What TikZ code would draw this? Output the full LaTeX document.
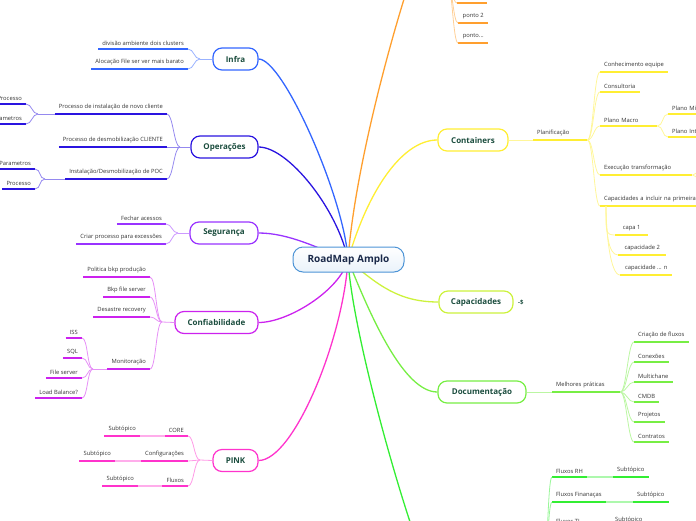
\documentclass[tikz,border=0pt]{standalone}
\usepackage{fontspec}
\setmainfont{Open Sans}

\definecolor{cinfra}{HTML}{3366FF}
\definecolor{cops}{HTML}{2A14E0}
\definecolor{cseg}{HTML}{9933FF}
\definecolor{cconf}{HTML}{CC22EE}
\definecolor{cpink}{HTML}{FF33CC}
\definecolor{corange}{HTML}{FF9F2E}
\definecolor{ccont}{HTML}{FFEE33}
\definecolor{ccap}{HTML}{CCF23C}
\definecolor{cdoc}{HTML}{77EE44}
\definecolor{cflux}{HTML}{33EE33}
\definecolor{croot}{HTML}{4D94D6}
\definecolor{roottext}{HTML}{1B2A4A}
\definecolor{topictext}{HTML}{1B4D3E}
\definecolor{leaftext}{HTML}{333333}

\tikzset{
  rootbox/.style={draw=croot, line width=1pt, rounded corners=10pt, top color=white, bottom color=croot!12,
    minimum width=111pt, minimum height=25pt, font=\fontsize{10}{12}\selectfont\bfseries, text=roottext},
  topic/.style={draw=#1, line width=1.2pt, fill=white, rounded corners=9pt, minimum height=22pt,
    font=\fontsize{8}{9.5}\selectfont\bfseries, text=topictext},
  leaf/.style={font=\fontsize{5.8}{7}\selectfont, text=leaftext, inner xsep=4pt, inner ysep=3.5pt,
    append after command={(\tikzlastnode.south west) edge[draw=#1, line width=1.8pt] (\tikzlastnode.south east)}},
  branchline/.style={draw=#1, line width=1.3pt},
  forkline/.style={draw=#1!50, line width=0.8pt},
  linkline/.style={draw=#1!40, line width=1.8pt},
}

\begin{document}
\begin{tikzpicture}[x=1pt, y=-1pt]
\useasboundingbox (0,0) rectangle (696,520);
\clip (0,0) rectangle (696,520);

% Hub of the map
\coordinate (hub) at (348,260);
\coordinate (orangetopic) at (425,-60);
\coordinate (fluxtopic) at (430,575);

% Main topics
\node[topic=cinfra, minimum width=45pt] (infra) at (235.5,59) {Infra};
\node[topic=cops, minimum width=67pt] (ops) at (224.5,147) {Operações};
\node[topic=cseg, minimum width=68pt] (seg) at (224,233) {Segurança};
\node[topic=cconf, minimum width=83pt] (conf) at (216.5,322.5) {Confiabilidade};
\node[topic=cpink, minimum width=45pt] (pink) at (235.5,460.5) {PINK};
\node[topic=ccont, minimum width=70pt] (cont) at (473,140) {Containers};
\node[topic=ccap, minimum width=74pt] (capac) at (476,302) {Capacidades};
\node[topic=cdoc, minimum width=88pt] (doc) at (482,392) {Documentação};

% Branches from the hub
\draw[branchline=cinfra] (hub) .. controls +(-3,-60) and +(25,0) .. (infra.east);
\draw[branchline=cops] (hub) .. controls +(-10,-50) and +(30,0) .. (ops.east);
\draw[branchline=cseg] (hub) .. controls +(-30,-12) and +(30,0) .. (seg.east);
\draw[branchline=cconf] (hub) .. controls +(-8,30) and +(30,0) .. (conf.east);
\draw[branchline=cpink] (hub) .. controls +(-5,80) and +(35,0) .. (pink.east);
\draw[branchline=corange] (hub) .. controls +(8,-110) and +(-15,30) .. (orangetopic);
\draw[branchline=ccont] (hub) .. controls +(20,-70) and +(-35,0) .. (cont.west);
\draw[branchline=ccap] (hub) .. controls +(30,25) and +(-40,0) .. (capac.west);
\draw[branchline=cdoc] (hub) .. controls +(24,60) and +(-33,0) .. (doc.west);
\draw[branchline=cflux] (hub) .. controls +(5,80) and +(-20,-40) .. (fluxtopic);

% Root on top of the branches
\node[rootbox] (root) at (348.5,259.5) {RoadMap Amplo};

% Infra
\node[leaf=cinfra, anchor=south east] (clusters) at (188,49) {divisão ambiente dois clusters};
\node[leaf=cinfra, anchor=south east] (alocacao) at (188,69) {Alocação File ser ver mais barato};
\coordinate (infrafork) at (200,59);
\draw[forkline=cinfra] (infra.west) -- (infrafork);
\draw[forkline=cinfra] (infrafork) .. controls +(-6,0) and +(6,0) .. (clusters.south east);
\draw[forkline=cinfra] (infrafork) .. controls +(-6,0) and +(6,0) .. (alocacao.south east);

% Operacoes
\node[leaf=cops, anchor=south east] (novocliente) at (167,114) {Processo de instalação de novo cliente};
\node[leaf=cops, anchor=south east] (desmob) at (167,147) {Processo de desmobilização CLIENTE};
\node[leaf=cops, anchor=south east] (poc) at (167,179) {Instalação/Desmobilização de POC};
\coordinate (opsfork) at (180,147);
\draw[forkline=cops] (ops.west) -- (opsfork);
\draw[forkline=cops] (opsfork) .. controls +(-6,0) and +(6,0) .. (novocliente.south east);
\draw[forkline=cops] (opsfork) -- (desmob.south east);
\draw[forkline=cops] (opsfork) .. controls +(-6,0) and +(6,0) .. (poc.south east);

\node[leaf=cops, anchor=south east] (novoproc) at (26,104) {Processo};
\node[leaf=cops, anchor=south east] (novoparam) at (26,124) {Parametros};
\coordinate (novofork) at (38,114);
\draw[forkline=cops] (novocliente.south west) -- (novofork);
\draw[forkline=cops] (novofork) .. controls +(-6,0) and +(6,0) .. (novoproc.south east);
\draw[forkline=cops] (novofork) .. controls +(-6,0) and +(6,0) .. (novoparam.south east);

\node[leaf=cops, anchor=south east] (pocparam) at (35,169) {Parametros};
\node[leaf=cops, anchor=south east] (pocproc) at (35,189) {Processo};
\coordinate (pocfork) at (45,179);
\draw[forkline=cops] (poc.south west) -- (pocfork);
\draw[forkline=cops] (pocfork) .. controls +(-6,0) and +(6,0) .. (pocparam.south east);
\draw[forkline=cops] (pocfork) .. controls +(-6,0) and +(6,0) .. (pocproc.south east);

% Seguranca
\node[leaf=cseg, anchor=south east] (fechar) at (166,224) {Fechar acessos};
\node[leaf=cseg, anchor=south east] (excecoes) at (166,244) {Criar processo para excessões};
\coordinate (segfork) at (178,233);
\draw[forkline=cseg] (seg.west) -- (segfork);
\draw[forkline=cseg] (segfork) .. controls +(-6,0) and +(6,0) .. (fechar.south east);
\draw[forkline=cseg] (segfork) .. controls +(-6,0) and +(6,0) .. (excecoes.south east);

% Confiabilidade
\node[leaf=cconf, anchor=south east] (bkpprod) at (150,277) {Politica bkp produção};
\node[leaf=cconf, anchor=south east] (bkpfile) at (150,297) {Bkp file server};
\node[leaf=cconf, anchor=south east] (desastre) at (150,317) {Desastre recovery};
\node[leaf=cconf, anchor=south east] (monit) at (150,369) {Monitoração};
\coordinate (conffork) at (162,322);
\draw[forkline=cconf] (conf.west) -- (conffork);
\draw[forkline=cconf] (conffork) .. controls +(-6,0) and +(6,0) .. (bkpprod.south east);
\draw[forkline=cconf] (conffork) .. controls +(-6,0) and +(6,0) .. (bkpfile.south east);
\draw[forkline=cconf] (conffork) .. controls +(-6,0) and +(6,0) .. (desastre.south east);
\draw[forkline=cconf] (conffork) .. controls +(-6,0) and +(6,0) .. (monit.south east);

\node[leaf=cconf, anchor=south east] (iss) at (82,338) {ISS};
\node[leaf=cconf, anchor=south east] (sql) at (82,358) {SQL};
\node[leaf=cconf, anchor=south east] (fileserver) at (82,378) {File server};
\node[leaf=cconf, anchor=south east] (balance) at (82,398) {Load Balance?};
\coordinate (monitfork) at (93,369);
\draw[forkline=cconf] (monit.south west) -- (monitfork);
\draw[forkline=cconf] (monitfork) .. controls +(-6,0) and +(6,0) .. (iss.south east);
\draw[forkline=cconf] (monitfork) .. controls +(-6,0) and +(6,0) .. (sql.south east);
\draw[forkline=cconf] (monitfork) .. controls +(-6,0) and +(6,0) .. (fileserver.south east);
\draw[forkline=cconf] (monitfork) .. controls +(-6,0) and +(6,0) .. (balance.south east);

% PINK
\node[leaf=cpink, anchor=south east] (core) at (188,436) {CORE};
\node[leaf=cpink, anchor=south east] (config) at (188,461) {Configurações};
\node[leaf=cpink, anchor=south east] (fluxos) at (188,486) {Fluxos};
\coordinate (pinkfork) at (200,460);
\draw[forkline=cpink] (pink.west) -- (pinkfork);
\draw[forkline=cpink] (pinkfork) .. controls +(-6,0) and +(6,0) .. (core.south east);
\draw[forkline=cpink] (pinkfork) .. controls +(-6,0) and +(6,0) .. (config.south east);
\draw[forkline=cpink] (pinkfork) .. controls +(-6,0) and +(6,0) .. (fluxos.south east);

\node[leaf=cpink, anchor=south east] (coresub) at (140,436) {Subtópico};
\node[leaf=cpink, anchor=south east] (configsub) at (115,461) {Subtópico};
\node[leaf=cpink, anchor=south east] (fluxossub) at (138,486) {Subtópico};
\draw[linkline=cpink] (core.south west) -- (coresub.south east);
\draw[linkline=cpink] (config.south west) -- (configsub.south east);
\draw[linkline=cpink] (fluxos.south west) -- (fluxossub.south east);

% Orange branch (topic above the page)
\coordinate (ofork) at (447,-20);
\node[leaf=corange, anchor=south west, minimum width=30pt] (ponto1) at (457,3) {};
\node[leaf=corange, anchor=south west, minimum width=30pt] (ponto2) at (458,23) {ponto 2};
\node[leaf=corange, anchor=south west, minimum width=30pt] (pontos) at (458,43) {ponto...};
\draw[forkline=corange] (ofork) .. controls +(5,0) and +(-5,0) .. (ponto1.south west);
\draw[forkline=corange] (ofork) .. controls +(5,0) and +(-5,0) .. (ponto2.south west);
\draw[forkline=corange] (ofork) .. controls +(5,0) and +(-5,0) .. (pontos.south west);

% Containers
\node[leaf=ccont, anchor=south west, text width=46pt, align=left] (planif) at (533,140) {Planificação};
\draw[forkline=ccont] (cont.east) -- (planif.south west);

\node[leaf=ccont, anchor=south west] (equipe) at (600,72) {Conhecimento equipe};
\node[leaf=ccont, anchor=south west] (consult) at (600,92) {Consultoria};
\node[leaf=ccont, anchor=south west, text width=49pt, align=left] (macro) at (600,126) {Plano Macro};
\node[leaf=ccont, anchor=south west, text width=84pt, align=left] (exec) at (600,175) {Execução transformação};
\node[leaf=ccont, anchor=south west, text width=110pt, align=left] (primeira) at (600,206) {Capacidades a incluir na primeira};
\draw[forkline=ccont] (planif.south east) .. controls +(6,0) and +(-6,0) .. (equipe.south west);
\draw[forkline=ccont] (planif.south east) .. controls +(6,0) and +(-6,0) .. (consult.south west);
\draw[forkline=ccont] (planif.south east) .. controls +(6,0) and +(-6,0) .. (macro.south west);
\draw[forkline=ccont] (planif.south east) .. controls +(6,0) and +(-6,0) .. (exec.south west);
\draw[forkline=ccont] (planif.south east) .. controls +(6,0) and +(-6,0) .. (primeira.south west);

\node[leaf=ccont, anchor=south west, text width=40pt, align=left] (micro) at (668,114) {Plano Mi};
\node[leaf=ccont, anchor=south west, text width=40pt, align=left] (inter) at (668,137) {Plano Int};
\draw[forkline=ccont] (macro.south east) .. controls +(6,0) and +(-6,0) .. (micro.south west);
\draw[forkline=ccont] (macro.south east) .. controls +(6,0) and +(-6,0) .. (inter.south west);

\coordinate (execup) at (704,165);
\coordinate (execdown) at (704,185);
\draw[forkline=ccont] (exec.south east) .. controls +(6,0) and +(-6,0) .. (execup);
\draw[forkline=ccont] (exec.south east) .. controls +(6,0) and +(-6,0) .. (execdown);

\coordinate (primfork) at (606,206);
\node[leaf=ccont, anchor=south west, minimum width=33pt] (capa1) at (615,235) {capa 1};
\node[leaf=ccont, anchor=south west, minimum width=48pt] (capa2) at (618,255) {capacidade 2};
\node[leaf=ccont, anchor=south west, minimum width=52pt] (capan) at (620,275) {capacidade ... n};
\draw[forkline=ccont] (primfork) .. controls +(0,25) and +(-10,0) .. (capa1.south west);
\draw[forkline=ccont] (primfork) .. controls +(0,25) and +(-10,0) .. (capa2.south west);
\draw[forkline=ccont] (primfork) .. controls +(0,25) and +(-10,0) .. (capan.south west);

% Capacidades
\node[font=\fontsize{6}{7}\selectfont\bfseries, text=topictext, anchor=west, inner sep=1pt] (capicon) at (517,302) {-\$};

% Documentacao
\node[leaf=cdoc, anchor=south west, text width=60pt, align=left] (melhores) at (552,392) {Melhores práticas};
\draw[forkline=cdoc] (doc.east) -- (melhores.south west);

\node[leaf=cdoc, anchor=south west] (criacao) at (634,342) {Criação de fluxos};
\node[leaf=cdoc, anchor=south west] (conexoes) at (634,362) {Conexões};
\node[leaf=cdoc, anchor=south west] (multichane) at (634,382) {Multichane};
\node[leaf=cdoc, anchor=south west] (cmdb) at (634,402) {CMDB};
\node[leaf=cdoc, anchor=south west] (projetos) at (634,422) {Projetos};
\node[leaf=cdoc, anchor=south west] (contratos) at (634,442) {Contratos};
\draw[forkline=cdoc] (melhores.south east) .. controls +(6,0) and +(-6,0) .. (criacao.south west);
\draw[forkline=cdoc] (melhores.south east) .. controls +(6,0) and +(-6,0) .. (conexoes.south west);
\draw[forkline=cdoc] (melhores.south east) .. controls +(6,0) and +(-6,0) .. (multichane.south west);
\draw[forkline=cdoc] (melhores.south east) .. controls +(6,0) and +(-6,0) .. (cmdb.south west);
\draw[forkline=cdoc] (melhores.south east) .. controls +(6,0) and +(-6,0) .. (projetos.south west);
\draw[forkline=cdoc] (melhores.south east) .. controls +(6,0) and +(-6,0) .. (contratos.south west);

% Fluxos (topic below the page)
\coordinate (gfork) at (542,600);
\node[leaf=cflux, anchor=south west] (fluxrh) at (552,477) {Fluxos RH};
\node[leaf=cflux, anchor=south west] (fluxfin) at (552,502) {Fluxos Finanaças};
\node[leaf=cflux, anchor=south west] (fluxti) at (552,527) {Fluxos TI};
\draw[forkline=cflux] (gfork) .. controls +(5,0) and +(-5,0) .. (fluxrh.south west);
\draw[forkline=cflux] (gfork) .. controls +(5,0) and +(-5,0) .. (fluxfin.south west);
\draw[forkline=cflux] (gfork) .. controls +(5,0) and +(-5,0) .. (fluxti.south west);

\node[leaf=cflux, anchor=south west] (subrh) at (613,477) {Subtópico};
\node[leaf=cflux, anchor=south west] (subfin) at (633,502) {Subtópico};
\node[leaf=cflux, anchor=south west] (subti) at (611,527) {Subtópico};
\draw[linkline=cflux] (fluxrh.south east) -- (subrh.south west);
\draw[linkline=cflux] (fluxfin.south east) -- (subfin.south west);
\draw[linkline=cflux] (fluxti.south east) -- (subti.south west);

\end{tikzpicture}
\end{document}
